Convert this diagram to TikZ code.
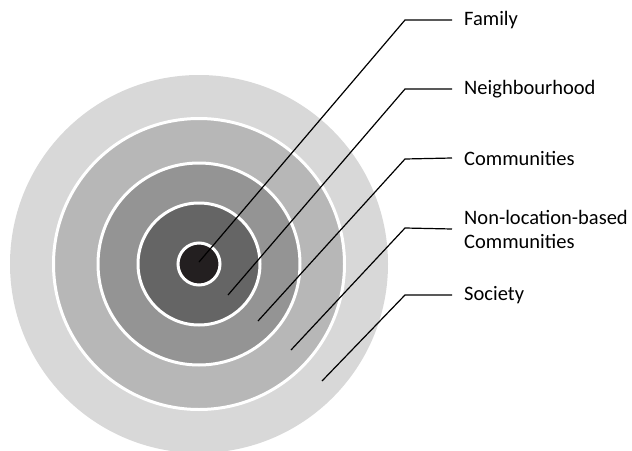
\documentclass[tikz,border=0pt]{standalone}
\usepackage{fontspec}
\setmainfont{Carlito}
\usepackage{xcolor}
\definecolor{ringA}{HTML}{D8D8D8}
\definecolor{ringB}{HTML}{B7B7B7}
\definecolor{ringC}{HTML}{949494}
\definecolor{ringD}{HTML}{656565}
\definecolor{ringE}{HTML}{231F20}
\tikzset{ring/.style={draw=white,line width=3pt},
 lead/.style={draw=black,line width=1.2pt},
 tag/.style={anchor=west,inner xsep=12pt,inner ysep=0pt,align=left,
  font=\fontsize{20.5}{24}\selectfont},
 }

\begin{document}
\begin{tikzpicture}[x=1pt,y=-1pt]
        \useasboundingbox (0,0) rectangle (632,450);
        \coordinate (ctr) at (199,264);
        \fill[ringA] (ctr) circle (189);
        \filldraw[ring, fill=ringB] (ctr) circle (145.5);
        \filldraw[ring, fill=ringC] (ctr) circle (101);
        \filldraw[ring, fill=ringD] (ctr) circle (61);
        \filldraw[ring, fill=ringE] (ctr) circle (21);
        \node[tag] (family) at (452,20) {Family};
        \node[tag] (neigh) at (452,89) {Neighbourhood};
        \node[tag] (comm) at (452,158) {Communities};
        \node[tag] (nonloc) at (452,229) {Non-location-based\\Communities};
        \node[tag] (soc) at (452,295) {Society};
        \draw[lead] (199,262) -- (405,20) -- (family.west);
        \draw[lead] (228,295) -- (405,89) -- (neigh.west);
        \draw[lead] (258,321) -- (405,159) -- (comm.west);
        \draw[lead] (291,350) -- (405,228) -- (nonloc.west);
        \draw[lead] (322,381) -- (405,295) -- (soc.west);
    \end{tikzpicture}
\end{document}
